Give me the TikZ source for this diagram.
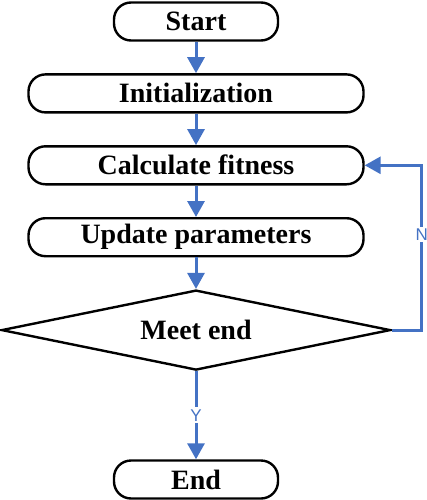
\documentclass[tikz,border=0pt]{standalone}
\usepackage{fontspec}
\setmainfont{Liberation Serif}
\newfontfamily\labelfont{Liberation Sans}
\usetikzlibrary{arrows.meta,positioning,shapes.geometric}
\definecolor{flowblue}{RGB}{68,114,196}
\tikzset{
    mynode/.style={rectangle, rounded corners=17pt, draw=black, line width=2.4pt, minimum height=38pt, inner sep=0pt, font=\fontsize{28}{30}\selectfont\bfseries, text centered},
    mydiamond/.style={diamond, aspect=4.8, draw=black, line width=2.4pt, minimum width=389pt, minimum height=80pt, inner sep=0pt, font=\fontsize{28}{30}\selectfont\bfseries, text centered},
    pil/.style={>={Triangle[width=17pt,length=16pt]}, ->, draw=flowblue, line width=3pt},
    yn/.style={font={\labelfont\fontsize{17}{19}\selectfont}, text=flowblue, fill=white, inner sep=2pt}
}

\begin{document}
\begin{tikzpicture}[node distance=31.5pt, x=1pt, y=1pt]
    \useasboundingbox (0,0) rectangle (427,-500);
    \node[mynode, minimum width=164pt] (start) at (196,-21.5) {Start};
    \node[mynode, minimum width=335pt, below=of start] (init) {Initialization}
        edge[pil, <-] (start);
    \node[mynode, minimum width=335pt, below=of init] (fitness) {Calculate fitness}
        edge[pil, <-] (init);
    \node[mynode, minimum width=335pt, below=of fitness] (update) {Update parameters}
        edge[pil, <-] (fitness);
    \node[mydiamond, below=of update] (meet) {Meet end}
        edge[pil, <-] (update);
    \node[mynode, minimum width=164pt, below=88pt of meet] (stop) {End}
        edge[pil, <-] node[yn] {Y} (meet);
    \coordinate[right=30pt of meet.east] (back);
    \draw[pil] (meet.east) -- (back) |- node[yn, pos=0.29] {N} (fitness.east);
\end{tikzpicture}
\end{document}
